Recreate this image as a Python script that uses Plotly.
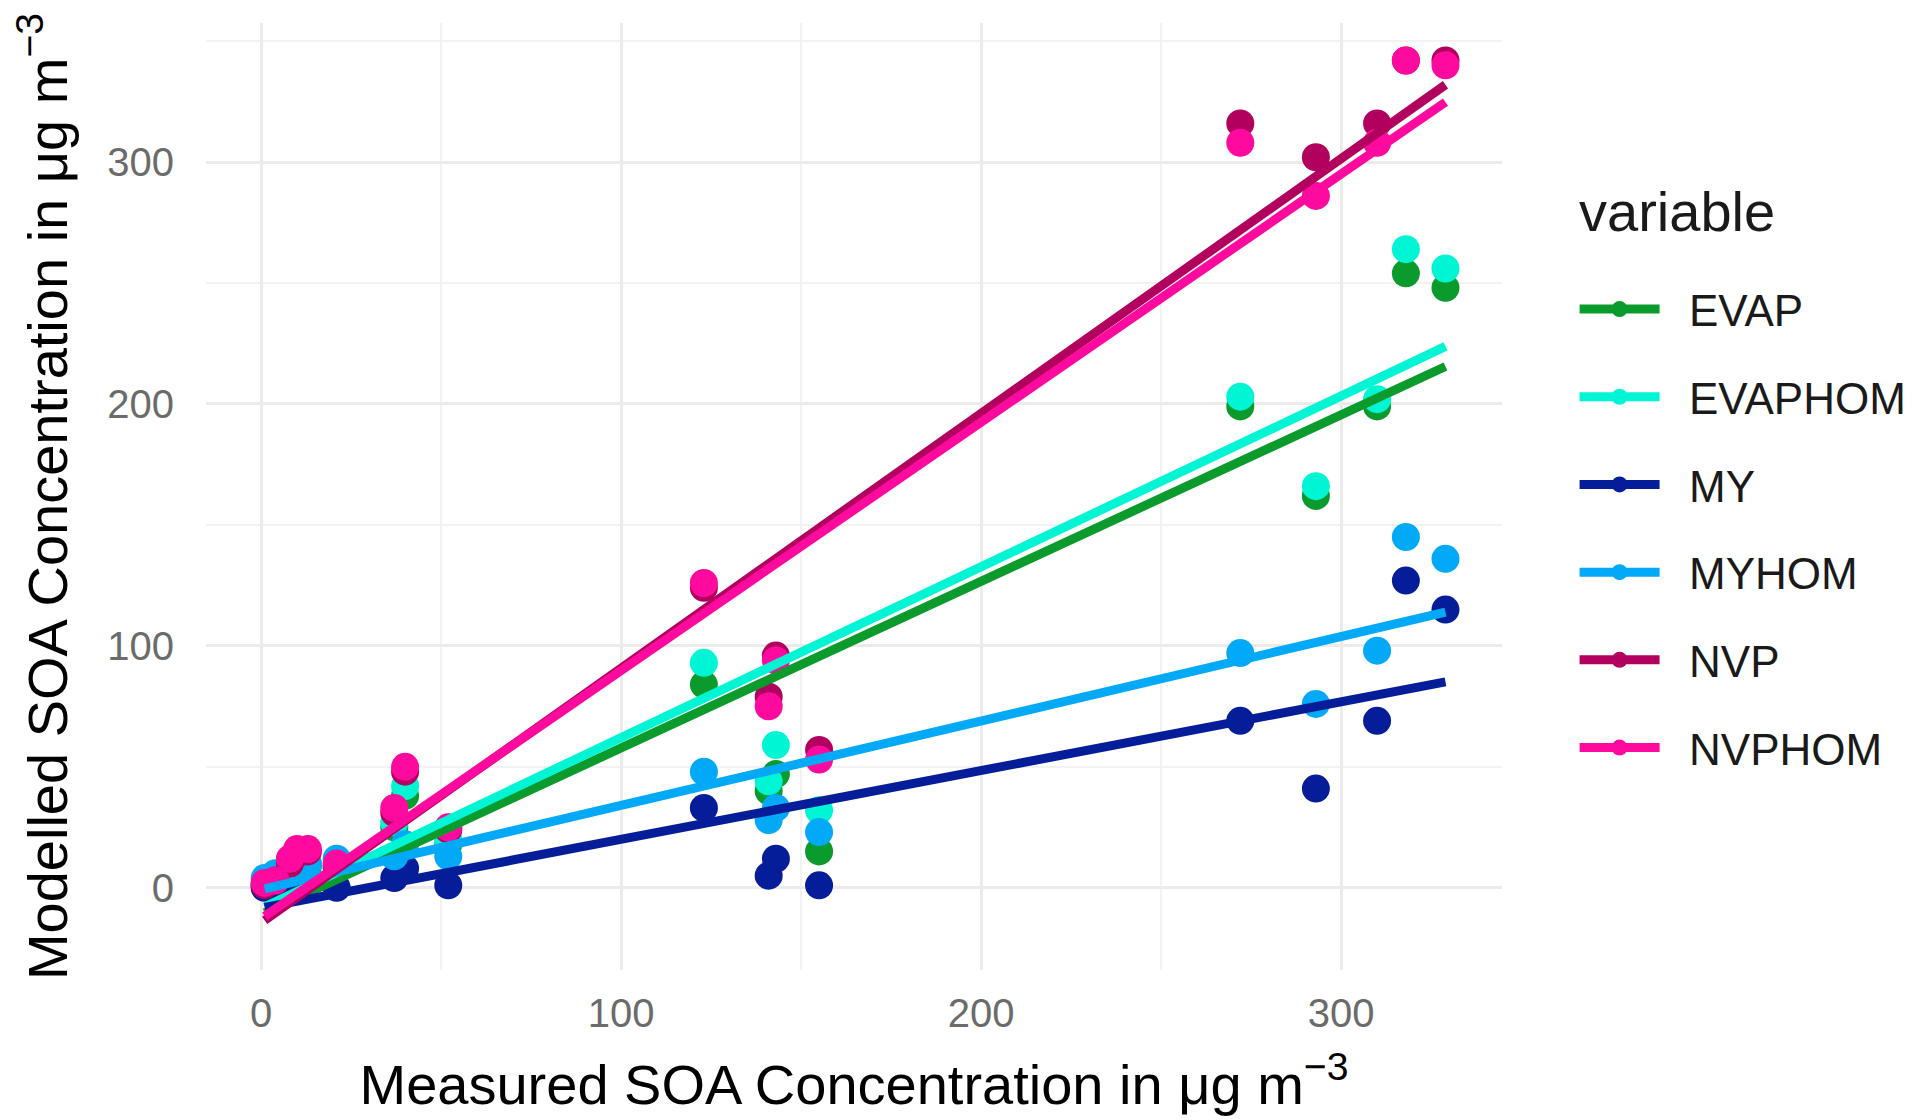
import numpy as np
import plotly.graph_objects as go

# Measured SOA concentration (x) shared by all series
measured = [1, 4, 8, 10, 13, 21, 37, 40, 52, 123, 141, 143, 155, 272, 293, 310, 318, 329]

series_names = ["EVAP", "EVAPHOM", "MY", "MYHOM", "NVP", "NVPHOM"]

evap    = [1, 2, 6, 9, 9, 8, 25, 38, 18, 84, 40, 47, 15, 199, 162, 199, 254, 248]
evaphom = [2, 3, 7, 10, 10, 9, 27, 42, 20, 93, 44, 59, 32, 203, 166, 202, 264, 256]
my      = [0, 1, 2, 3, 3, 0, 4, 8, 1, 33, 5, 12, 1, 69, 41, 69, 127, 115]
myhom   = [4, 6, 8, 9, 10, 12, 13, 18, 13, 48, 28, 33, 23, 97, 76, 98, 145, 136]
nvp     = [1, 3, 10, 14, 15, 9, 31, 48, 24, 124, 79, 96, 57, 316, 302, 316, 342, 342]
nvphom  = [2, 3, 12, 16, 16, 10, 33, 50, 25, 126, 75, 94, 53, 308, 286, 308, 342, 340]

series_values = [evap, evaphom, my, myhom, nvp, nvphom]
colors = ["#0A9B2C", "#00F5D4", "#061D99", "#02A9F7", "#B2005F", "#FF0A9E"]

x_ticks = [0, 100, 200, 300]
y_ticks = [0, 100, 200, 300]

FONT = "Liberation Sans, Arial, Helvetica, sans-serif"
NB = "\u00a0"

fig = go.Figure()


def with_gaps(values):
    out = []
    for v in values:
        out.extend([v, None])
    return out


# points first (ggplot layer order: geom_point then geom_smooth).
# Gaps between points mean no connecting line is drawn; the line style only
# feeds the legend key (line + dot).
for name, vals, col in zip(series_names, series_values, colors):
    fig.add_trace(go.Scatter(
        x=with_gaps(measured), y=with_gaps(vals), mode="lines+markers",
        name=NB * 2 + name, legendgroup=name, showlegend=True,
        connectgaps=False,
        line=dict(color=col, width=9),
        marker=dict(size=28, color=col, line=dict(width=0)),
        hoverinfo="x+y+name",
    ))

# linear fits (geom_smooth(method = "lm", se = FALSE))
xa = np.array(measured, dtype=float)
xfit = np.array([xa.min(), xa.max()])
for name, vals, col in zip(series_names, series_values, colors):
    slope, intercept = np.polyfit(xa, np.array(vals, dtype=float), 1)
    fig.add_trace(go.Scatter(
        x=xfit, y=slope * xfit + intercept, mode="lines", name=name,
        legendgroup=name, showlegend=False,
        line=dict(color=col, width=9),
    ))

fig.update_layout(
    template="none",
    width=1920, height=1120,
    margin=dict(l=198, r=426, t=15, b=158, autoexpand=False),
    paper_bgcolor="white", plot_bgcolor="white",
    font=dict(family=FONT, color="#1a1a1a"),
    showlegend=True,
    legend=dict(
        font=dict(size=44, color="#1a1a1a"),
        x=1.056, xanchor="left", y=0.735, yanchor="top",
        tracegroupgap=27.5, itemwidth=80,
        bgcolor="rgba(0,0,0,0)",
    ),
    annotations=[dict(
        text="variable", xref="paper", yref="paper",
        x=1.058, y=0.801, xanchor="left", yanchor="middle",
        showarrow=False, font=dict(size=56, color="#1a1a1a"),
    )],
)

fig.update_xaxes(
    range=[-15.3, 344.7], tickmode="array", tickvals=x_ticks,
    ticktext=[str(v) for v in x_ticks],
    tickfont=dict(size=40, color="#6b6b6b"),
    showgrid=True, gridcolor="#EBEBEB", gridwidth=3,
    minor=dict(tickmode="array", tickvals=[50, 150, 250], showgrid=True,
               gridcolor="#F2F2F2", gridwidth=1.5),
    zeroline=False, showline=False, ticks="",
    ticklabelstandoff=16, automargin=False,
    title=dict(text="Measured SOA Concentration in μg m<sup>−3</sup>",
               font=dict(size=56, color="#000000"), standoff=30),
)
fig.update_yaxes(
    range=[-34, 357.5], tickmode="array", tickvals=y_ticks,
    ticktext=[str(v) for v in y_ticks],
    tickfont=dict(size=40, color="#6b6b6b"),
    showgrid=True, gridcolor="#EBEBEB", gridwidth=3,
    minor=dict(tickmode="array", tickvals=[50, 150, 250, 350], showgrid=True,
               gridcolor="#F2F2F2", gridwidth=1.5),
    zeroline=False, showline=False, ticks="",
    ticklabelstandoff=31, automargin=False,
    title=dict(text="Modelled SOA Concentration in μg m<sup>−3</sup>",
               font=dict(size=56, color="#000000"), standoff=40),
)

fig.write_html("out.html")
